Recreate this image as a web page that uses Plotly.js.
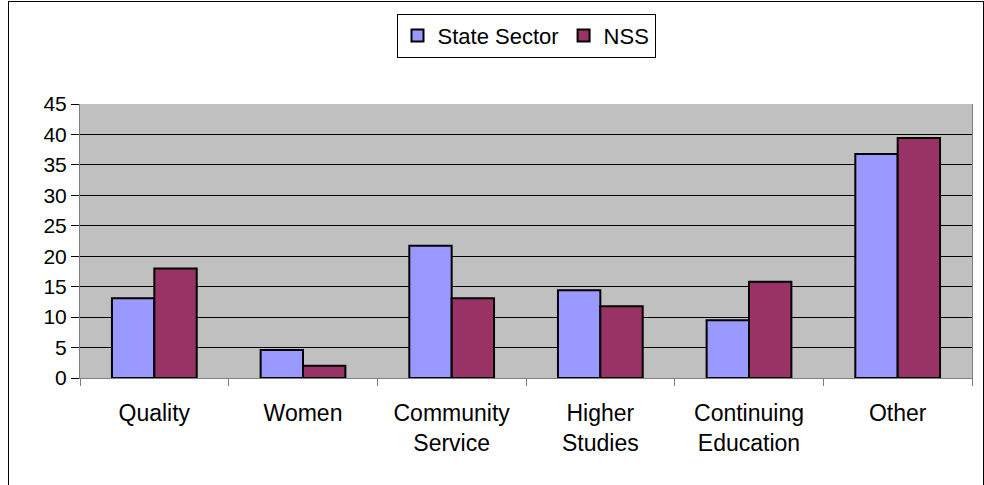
<!DOCTYPE html>
<html>
<head>
<meta charset="utf-8">
<script src="https://cdn.plot.ly/plotly-3.0.1.min.js"></script>
<style>
  html, body { margin: 0; padding: 0; background: #fff; }
  #frame { position: absolute; left: 8px; top: 1px; width: 974px; height: 500px;
           border-left: 1px solid #000; border-top: 1px solid #000; border-right: 1px solid #000; }
  #chart { position: absolute; left: 0; top: 0; width: 984px; height: 485px; }
</style>
</head>
<body>
<div id="frame"></div>
<div id="chart"></div>
<script>
const categories = ["Quality", "Women", "Community<br>Service", "Higher<br>Studies", "Continuing<br>Education", "Other"];
const stateSector = [13.1, 4.6, 21.7, 14.4, 9.5, 36.8];
const nss = [18.0, 2.0, 13.1, 11.8, 15.8, 39.4];
const yTicks = [0, 5, 10, 15, 20, 25, 30, 35, 40, 45];

const traces = [
  { type: "bar", name: "State Sector", x: categories, y: stateSector,
    marker: { color: "#9999FF", line: { color: "#000", width: 2 } } },
  { type: "bar", name: "NSS", x: categories, y: nss,
    marker: { color: "#993366", line: { color: "#000", width: 2 } } }
];

const layout = {
  width: 984, height: 485,
  margin: { l: 80, r: 12, t: 104, b: 107 },
  paper_bgcolor: "rgba(0,0,0,0)",
  plot_bgcolor: "#C0C0C0",
  font: { family: "Liberation Sans, Arial, sans-serif", size: 22, color: "#000" },
  barmode: "group",
  bargap: 0.43,
  bargroupgap: 0,
  showlegend: true,
  legend: {
    orientation: "h", x: 0.5, xanchor: "center", y: 1.33, yanchor: "top",
    bgcolor: "#fff", bordercolor: "#000", borderwidth: 1,
    font: { size: 22 }, itemwidth: 30, traceorder: "normal"
  },
  xaxis: {
    type: "category", tickson: "boundaries", ticks: "outside", ticklen: 7,
    tickcolor: "#808080", showline: true, linecolor: "#808080", linewidth: 1,
    mirror: false, showgrid: false, tickfont: { size: 23 }, fixedrange: true,
    ticklabelstandoff: 14
  },
  yaxis: {
    range: [0, 45], tickvals: yTicks, ticktext: yTicks.map(String),
    ticks: "outside", ticklen: 8, tickcolor: "#000",
    showline: true, linecolor: "#808080", linewidth: 1, mirror: true,
    showgrid: true, gridcolor: "#000", gridwidth: 1, zeroline: false,
    tickfont: { size: 21 }, fixedrange: true
  }
};

Plotly.newPlot("chart", traces, layout, { displayModeBar: false, staticPlot: true });
</script>
</body>
</html>
